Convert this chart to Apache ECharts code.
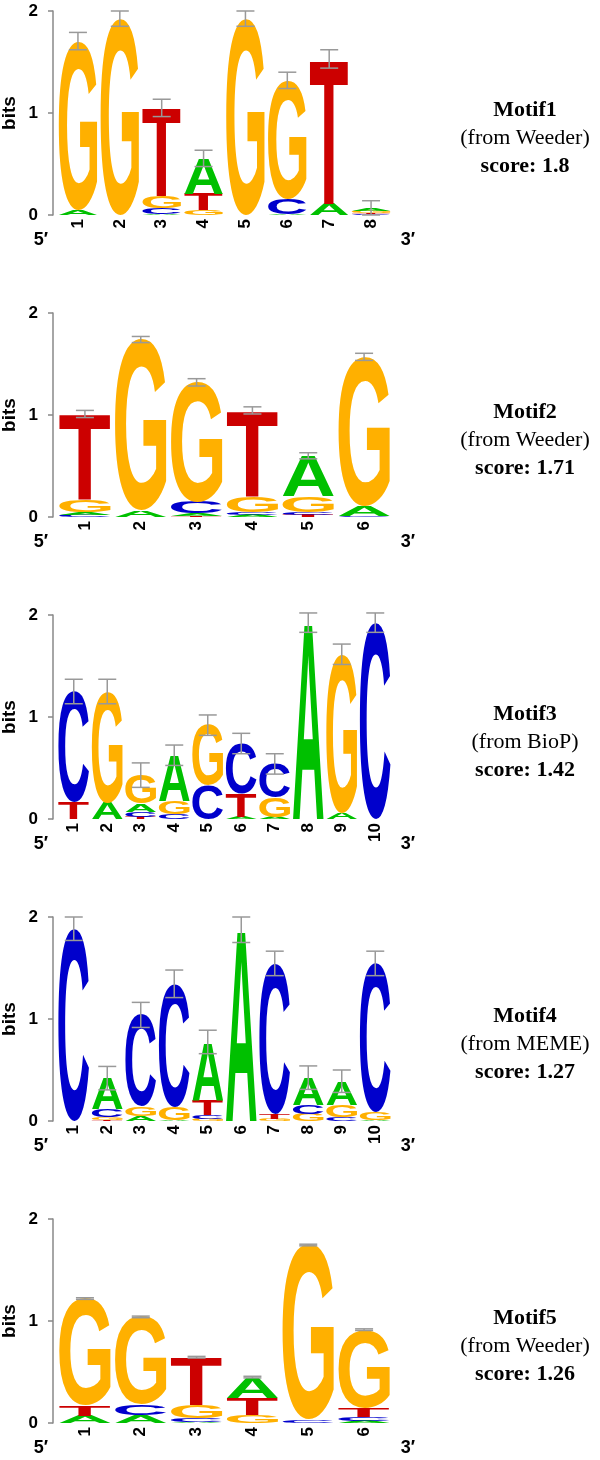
<!DOCTYPE html>
<html>
<head>
<meta charset="utf-8">
<script src="https://cdn.jsdelivr.net/npm/echarts@6/dist/echarts.min.js"></script>
<style>
  html, body { margin: 0; padding: 0; background: #fff; }
  #chart { width: 600px; height: 1460px; }
</style>
</head>
<body>
<div id="chart"></div>
<script>
// bits per base, one value per position
const bases = ['A', 'C', 'G', 'T']

const motif1A = [0.05, 0, 0.01, 0.345, 0, 0.01, 0.11, 0.03]
const motif1C = [0, 0, 0.06, 0, 0, 0.15, 0, 0.01]
const motif1G = [1.655, 1.925, 0.12, 0.05, 1.925, 1.16, 0, 0.02]
const motif1T = [0, 0, 0.86, 0.16, 0, 0, 1.42, 0.01]
const motif1Err = [0.085, 0.075, 0.085, 0.08, 0.075, 0.08, 0.09, 0.07]

const motif2A = [0.03, 0.06, 0.03, 0.02, 0.39, 0.1]
const motif2C = [0.02, 0, 0.11, 0.03, 0.03, 0.01]
const motif2G = [0.12, 1.68, 1.17, 0.15, 0.16, 1.46]
const motif2T = [0.84, 0, 0.01, 0.845, 0.02, 0]
const motif2Err = [0.035, 0.03, 0.036, 0.035, 0.03, 0.035]

const motif3A = [0, 0.16, 0.08, 0.445, 0, 0.02, 0.02, 1.925, 0.06, 0]
const motif3C = [1.08, 0, 0.05, 0.05, 0.33, 0.49, 0.33, 0, 0, 1.925]
const motif3G = [0, 1.09, 0.28, 0.13, 0.59, 0, 0.19, 0, 1.555, 0]
const motif3T = [0.17, 0, 0.02, 0, 0, 0.23, 0, 0, 0, 0]
const motif3Err = [0.12, 0.12, 0.12, 0.1, 0.1, 0.1, 0.1, 0.095, 0.1, 0.095]

const motif4A = [0, 0.3, 0.05, 0.01, 0.565, 1.875, 0, 0.265, 0.23, 0.01]
const motif4C = [1.885, 0.08, 0.9, 1.205, 0.04, 0, 1.475, 0.09, 0.04, 1.455]
const motif4G = [0, 0.03, 0.09, 0.13, 0.02, 0, 0.02, 0.07, 0.12, 0.08]
const motif4T = [0, 0.01, 0, 0, 0.15, 0, 0.05, 0, 0, 0]
const motif4Err = [0.115, 0.115, 0.123, 0.135, 0.115, 0.125, 0.12, 0.115, 0.11, 0.12]

const motif5A = [0.07, 0.08, 0.01, 0.2, 0, 0.02]
const motif5C = [0, 0.1, 0.04, 0, 0.03, 0.04]
const motif5G = [1.05, 0.86, 0.13, 0.08, 1.715, 0.765]
const motif5T = [0.1, 0, 0.465, 0.17, 0, 0.09]
const motif5Err = [0.008, 0.008, 0.008, 0.008, 0.008, 0.008]

const motifNames = ['Motif1', 'Motif2', 'Motif3', 'Motif4', 'Motif5']
const motifSources = ['(from Weeder)', '(from Weeder)', '(from BioP)', '(from MEME)', '(from Weeder)']
const motifScores = ['score: 1.8', 'score: 1.71', 'score: 1.42', 'score: 1.27', 'score: 1.26']
const yTicks = [0, 1, 2]

const motifs = [
  { A: motif1A, C: motif1C, G: motif1G, T: motif1T, err: motif1Err },
  { A: motif2A, C: motif2C, G: motif2G, T: motif2T, err: motif2Err },
  { A: motif3A, C: motif3C, G: motif3G, T: motif3T, err: motif3Err },
  { A: motif4A, C: motif4C, G: motif4G, T: motif4T, err: motif4Err },
  { A: motif5A, C: motif5C, G: motif5G, T: motif5T, err: motif5Err },
]

const baseColors = { A: '#00C000', C: '#0000CC', G: '#FFB000', T: '#CC0000' }
const LETTER_FONT = 'bold 100px "Liberation Sans"'
const LETTER_FILL = 0.92
const ERR_CAP = 18
const PANEL_STEP = 302
const GRID_TOP = 11
const GRID_H = 204
const GRID_LEFT = 57
const GRID_W = 335

// measure real glyph bounds so each letter can be stretched to fill its box
const measureCtx = document.createElement('canvas').getContext('2d')
const glyphCache = {}
function glyphBox(ch) {
  if (glyphCache[ch]) return glyphCache[ch]
  measureCtx.font = LETTER_FONT
  measureCtx.textAlign = 'left'
  measureCtx.textBaseline = 'middle'
  const m = measureCtx.measureText(ch)
  glyphCache[ch] = {
    L: m.actualBoundingBoxLeft, R: m.actualBoundingBoxRight,
    A: m.actualBoundingBoxAscent, D: m.actualBoundingBoxDescent,
  }
  return glyphCache[ch]
}

function stackData(m) {
  const out = []
  const n = m.A.length
  for (let i = 0; i < n; i++) {
    const order = bases.map((b, k) => ({ k, h: m[b][i] })).filter((d) => d.h > 0)
    order.sort((a, b) => a.h - b.h)
    let y = 0
    order.forEach((d) => {
      out.push([i, y, y + d.h, d.k])
      y += d.h
    })
  }
  return out
}

function errData(m) {
  return m.err.map((e, i) => [i, bases.reduce((s, b) => s + m[b][i], 0), e])
}

function renderLetter(params, api) {
  const col = api.value(0)
  const lo = api.coord([col, api.value(1)])
  const hi = api.coord([col, api.value(2)])
  const w = api.size([1, 0])[0] * LETTER_FILL
  const ch = bases[api.value(3)]
  const g = glyphBox(ch)
  const sx = w / (g.L + g.R)
  const sy = (lo[1] - hi[1]) / (g.A + g.D)
  return {
    type: 'text',
    x: lo[0] - w / 2 + g.L * sx,
    y: hi[1] + g.A * sy,
    scaleX: sx,
    scaleY: sy,
    style: { text: ch, x: 0, y: 0, font: LETTER_FONT, fill: baseColors[ch], align: 'left', verticalAlign: 'middle' },
  }
}

function renderErr(params, api) {
  const col = api.value(0)
  const top = api.value(1)
  const e = api.value(2)
  const a = api.coord([col, top + e])
  const b = api.coord([col, top - e])
  const h = ERR_CAP / 2
  const st = { stroke: '#999', lineWidth: 1.5 }
  return {
    type: 'group',
    children: [
      { type: 'line', shape: { x1: a[0], y1: a[1], x2: b[0], y2: b[1] }, style: st },
      { type: 'line', shape: { x1: a[0] - h, y1: a[1], x2: a[0] + h, y2: a[1] }, style: st },
      { type: 'line', shape: { x1: b[0] - h, y1: b[1], x2: b[0] + h, y2: b[1] }, style: st },
    ],
  }
}

const grids = []
const xAxes = []
const yAxes = []
const series = []
const graphics = []

motifs.forEach((m, i) => {
  const top = GRID_TOP + PANEL_STEP * i
  const zeroY = top + GRID_H
  grids.push({ left: GRID_LEFT, top, width: GRID_W, height: GRID_H, outerBoundsMode: 'none' })
  xAxes.push({
    type: 'category',
    gridIndex: i,
    data: m.A.map((_, k) => String(k + 1)),
    axisLine: { show: false },
    axisTick: { show: false },
    splitLine: { show: false },
    axisLabel: { interval: 0, rotate: 90, margin: 4, color: '#000', fontWeight: 'bold', fontSize: 17, fontFamily: 'Liberation Sans' },
  })
  yAxes.push({
    type: 'value',
    gridIndex: i,
    min: yTicks[0],
    max: yTicks[yTicks.length - 1],
    interval: 1,
    offset: 4,
    axisLine: { show: true, lineStyle: { color: '#888', width: 1.5 } },
    axisTick: { show: true, length: 5, lineStyle: { color: '#888', width: 1.5 } },
    splitLine: { show: false },
    axisLabel: { margin: 15, color: '#000', fontWeight: 'bold', fontSize: 17, fontFamily: 'Liberation Sans' },
  })
  series.push({
    type: 'custom', xAxisIndex: i, yAxisIndex: i, silent: true,
    renderItem: renderLetter, data: stackData(m), z: 2,
  })
  series.push({
    type: 'custom', xAxisIndex: i, yAxisIndex: i, silent: true,
    renderItem: renderErr, data: errData(m), z: 3,
  })

  const sans = '"Liberation Sans", Arial, sans-serif'
  const serif = '"Liberation Serif", "Times New Roman", serif'
  graphics.push(
    { type: 'text', x: 10, y: top + GRID_H / 2, rotation: Math.PI / 2,
      style: { text: 'bits', font: 'bold 19px ' + sans, fill: '#000', align: 'center', verticalAlign: 'middle' } },
    { type: 'text', x: 41, y: zeroY + 25,
      style: { text: '5\u2032', font: 'bold 18px ' + sans, fill: '#000', align: 'center', verticalAlign: 'middle' } },
    { type: 'text', x: 408, y: zeroY + 25,
      style: { text: '3\u2032', font: 'bold 18px ' + sans, fill: '#000', align: 'center', verticalAlign: 'middle' } },
    { type: 'text', x: 525, y: zeroY - 105,
      style: { text: motifNames[i], font: 'bold 22px ' + serif, fill: '#000', align: 'center', verticalAlign: 'middle' } },
    { type: 'text', x: 525, y: zeroY - 77,
      style: { text: motifSources[i], font: '22px ' + serif, fill: '#000', align: 'center', verticalAlign: 'middle' } },
    { type: 'text', x: 525, y: zeroY - 49,
      style: { text: motifScores[i], font: 'bold 22px ' + serif, fill: '#000', align: 'center', verticalAlign: 'middle' } },
  )
})

const chart = echarts.init(document.getElementById('chart'), null, { renderer: 'canvas' })
chart.setOption({
  animation: false,
  backgroundColor: '#fff',
  grid: grids,
  xAxis: xAxes,
  yAxis: yAxes,
  series,
  graphic: graphics,
})
</script>
</body>
</html>
